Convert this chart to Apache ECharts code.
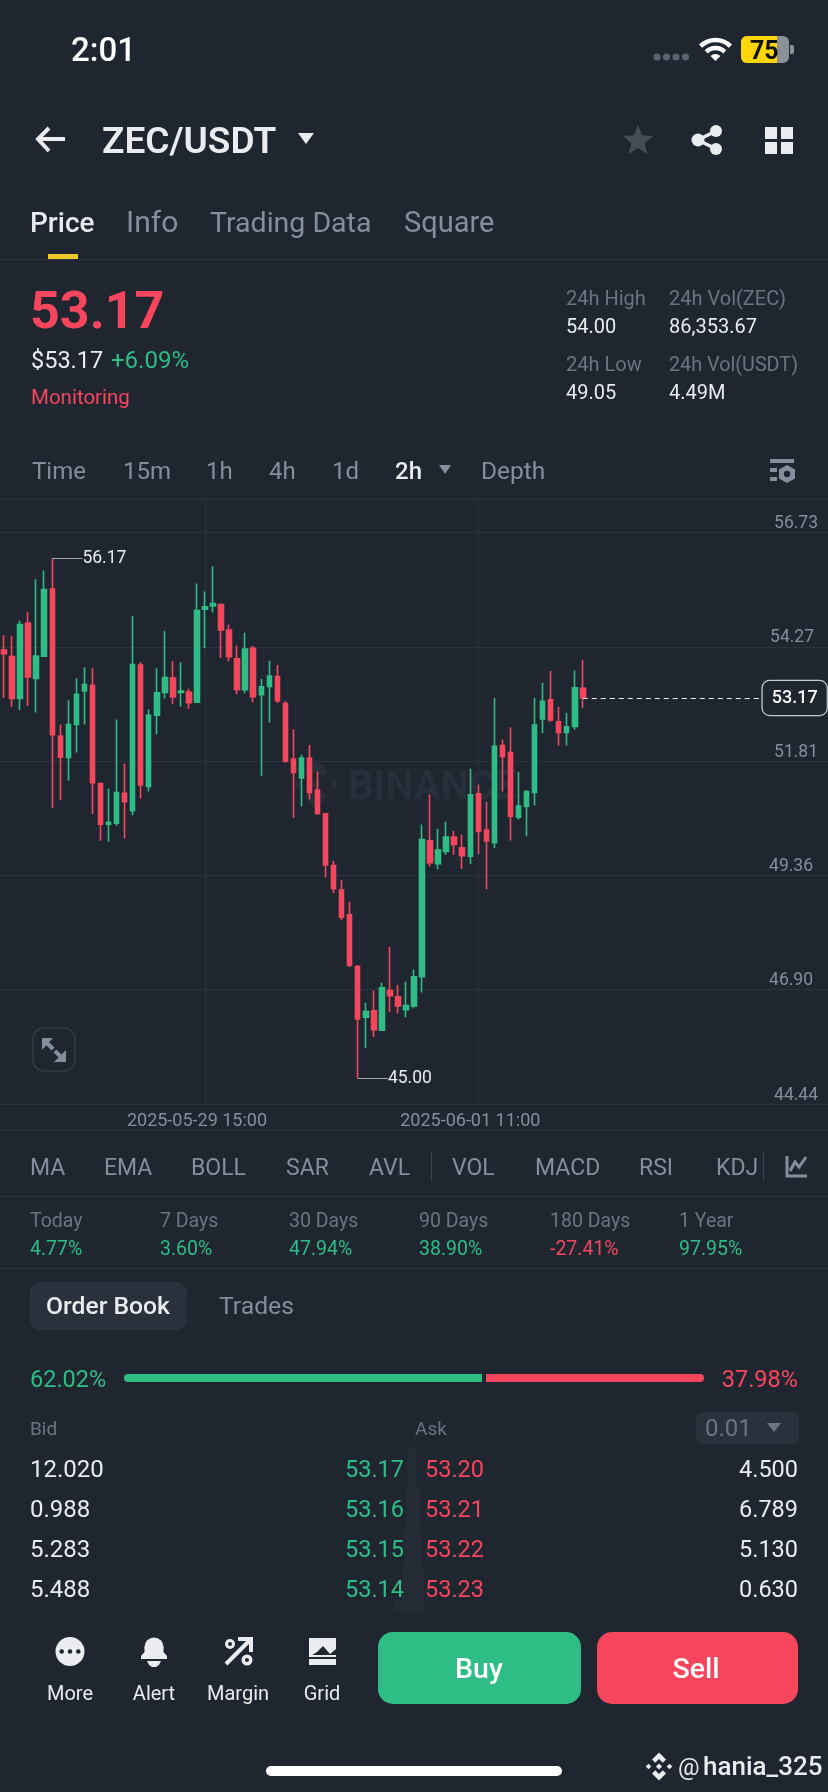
<!DOCTYPE html>
<html><head><meta charset="utf-8">
<style>html,body{margin:0;padding:0;background:#1f2630}#c{width:828px;height:1792px}</style>
<script src="https://cdn.jsdelivr.net/npm/echarts@6/dist/echarts.min.js"></script>
</head><body><div id="c"></div>
<script>
// ---------- data ----------
const opens  = [54.20,54.06,53.16,54.78,53.59,54.07,55.51,52.35,51.89,52.60,53.32,53.44,51.33,50.46,50.48,51.12,50.75,53.88,51.27,52.80,53.29,53.60,53.29,53.30,53.08,55.08,55.15,55.18,54.63,54.01,53.35,54.24,53.24,53.42,53.63,53.05,51.86,51.45,51.88,51.19,50.68,49.57,49.04,48.51,47.40,46.31,46.45,46.03,46.88,46.75,46.47,46.55,47.18,50.10,49.61,49.87,50.18,49.95,49.77,51.11,50.33,50.06,52.15,52.00,50.61,50.84,51.14,52.72,53.13,52.66,52.43,52.56,53.38];
const closes = [54.12,53.16,54.75,53.62,54.07,55.50,52.38,51.90,52.60,53.25,53.46,51.35,50.46,50.50,51.14,50.94,53.89,51.30,52.80,53.28,53.61,53.19,53.32,53.07,55.05,55.13,55.20,54.63,54.06,53.35,54.22,53.20,53.41,53.64,53.11,51.81,51.57,51.88,51.14,50.69,49.58,49.07,48.46,47.43,46.27,46.43,46.04,46.94,46.77,46.55,46.56,47.18,50.13,49.63,49.90,50.18,50.02,49.78,51.09,50.30,50.10,52.13,51.91,50.63,50.85,51.16,52.59,53.10,52.70,52.43,52.55,53.39,53.17];
const lows   = [53.17,52.98,52.91,53.00,52.86,54.07,50.80,50.97,51.39,52.00,52.60,50.67,50.10,50.08,50.43,50.15,50.65,51.01,51.16,52.39,53.16,53.04,52.98,52.94,53.06,54.24,55.01,54.03,53.96,53.25,53.27,53.08,51.50,52.64,53.06,51.78,50.59,50.84,50.99,50.66,49.31,48.98,48.40,47.39,45.00,45.64,45.89,46.03,46.42,46.39,46.31,46.50,46.84,49.55,49.49,49.80,49.80,49.50,49.60,49.81,49.06,49.94,51.16,50.11,50.56,50.20,50.86,52.41,52.66,52.15,52.15,52.49,52.95];
const highs  = [54.52,54.50,54.83,55.02,55.73,55.91,56.17,52.60,53.12,53.59,53.83,53.81,51.33,51.22,52.71,51.76,54.94,53.94,52.93,53.81,54.61,53.96,53.94,53.37,55.63,55.46,56.00,55.19,54.75,54.30,54.57,54.29,53.58,53.97,53.88,53.10,52.50,51.95,52.16,51.59,50.70,49.67,49.26,48.79,47.43,46.62,46.88,47.05,47.82,47.00,47.07,47.33,50.45,51.10,50.36,50.51,50.31,50.23,51.65,51.31,50.94,53.17,52.28,52.54,51.58,51.19,53.17,53.50,53.75,52.98,52.85,53.76,53.99];
const priceTicks = [44.44,46.90,49.36,51.81,54.27,56.73];
const sessionDays = ['2025-05-27','2025-05-28','2025-05-29','2025-05-30','2025-05-31','2025-06-01','2025-06-02'];
const labelledTimes = ['2025-05-29 15:00','2025-06-01 11:00'];
const lastPrice = 53.17, highMark = 56.17, lowMark = 45.00;
const bidShare = [62.02], askShare = [37.98];
const periods = ['Today','7 Days','30 Days','90 Days','180 Days','1 Year'];
const periodChange = ['4.77%','3.60%','47.94%','38.90%','-27.41%','97.95%'];
const bidQty = ['12.020','0.988','5.283','5.488'];
const bidPrice = ['53.17','53.16','53.15','53.14'];
const askPrice = ['53.20','53.21','53.22','53.23'];
const askQty = ['4.500','6.789','5.130','0.630'];

// ---------- build ----------
const BG='#1f2630',RED='#f6465d',GREEN='#2ebd85',W='#eaecef',G='#848e9c',G2='#6b7480',LINE='#2d333e',F='Roboto';
const categories=[];
sessionDays.forEach(function(d,i){for(let h=1;h<24;h+=2){if((i===0&&h<13)||(i===6&&h>13))continue;categories.push(d+' '+(h<10?'0':'')+h+':00');}});
const slots=categories.concat(new Array(30).fill(''));
const candles=opens.map(function(o,i){return [o,closes[i],lows[i],highs[i]];});
const el=[];
function T(x,base,text,size,fill,o){o=o||{};el.push({type:'text',x:x,y:base-size*0.25,silent:true,style:{text:text,fontSize:size,fontFamily:o.f||F,fontWeight:o.w||400,fill:fill,align:o.a||'left',verticalAlign:'middle'}});}
function R(x,y,w,h,fill,r,extra){el.push({type:'rect',silent:true,shape:{x:x,y:y,width:w,height:h,r:r||0},style:Object.assign({fill:fill},extra||{})});}
function P(points,fill){el.push({type:'polygon',silent:true,shape:{points:points},style:{fill:fill}});}
function L(points,color,w,cap){el.push({type:'polyline',silent:true,shape:{points:points},style:{fill:null,stroke:color,lineWidth:w,lineCap:cap||'butt',lineJoin:'miter'}});}
function C(x,y,r,fill){el.push({type:'circle',silent:true,shape:{cx:x,cy:y,r:r},style:{fill:fill}});}
function logo(cx,cy,s,fill){
  function q(a,b,r){P([[cx+a*s,cy+b*s-r*s],[cx+a*s+r*s,cy+b*s],[cx+a*s,cy+b*s+r*s],[cx+a*s-r*s,cy+b*s]],fill);}
  q(0,0,.22);q(-.75,0,.2);q(.75,0,.2);
  [-1,1].forEach(function(d){P([[cx,cy+d*s],[cx+.5*s,cy+d*.5*s],[cx+.27*s,cy+d*.27*s],[cx,cy+d*.54*s],[cx-.27*s,cy+d*.27*s],[cx-.5*s,cy+d*.5*s]],fill);});
}
// status bar
T(71,61,'2:01',33,'#ffffff',{w:500});
[657,666.5,676,685.5].forEach(function(x){C(x,57,3.6,'#5a6270');});
el.push({type:'arc',silent:true,shape:{cx:715.5,cy:61,r:21,startAngle:-2.36,endAngle:-0.78},style:{fill:null,stroke:'#fff',lineWidth:4.5}});
el.push({type:'arc',silent:true,shape:{cx:715.5,cy:61,r:13,startAngle:-2.36,endAngle:-0.78},style:{fill:null,stroke:'#fff',lineWidth:4.5}});
el.push({type:'sector',silent:true,shape:{cx:715.5,cy:61,r0:0,r:7,startAngle:-2.36,endAngle:-0.78},style:{fill:'#fff'}});
R(741,36,48,27,'#8b8f96',6);R(741,36,36,27,'#ffd60a',[6,0,0,6]);R(790,45,4,9,'#8b8f96',[0,2,2,0]);
T(750,59,'75',25,'#111',{w:700});
// header
L([[65,139],[38,139]],W,4);L([[49,128],[38,139],[49,151]],W,4);
T(102,153,'ZEC/USDT',37,W,{w:600});
P([[298,133],[314,133],[306,144]],W);
(function(){const pts=[];for(let i=0;i<10;i++){const r=i%2?7:16,a=-Math.PI/2+i*Math.PI/5;pts.push([638+r*Math.cos(a),141+r*Math.sin(a)]);}P(pts,'#474d57');})();
L([[716,131],[698,140],[716,149]],W,3.5);C(716,131,6,W);C(698,140,6.5,W);C(716,149,6,W);
R(765,127,12,12,W);R(781,127,12,12,W);R(765,142,12,12,W);R(781,142,12,12,W);
// tabs
T(30,232,'Price',28,W,{w:500});T(126,232,'Info',30,G);T(210,232,'Trading Data',28.5,G);T(404,232,'Square',29,G);
R(48,254,30,5,'#f0c929');R(0,259,828,1,LINE);
// ticker
T(30,328,'53.17',52,RED,{w:700});
T(31,368,'$53.17',23.5,W);T(111,368,'+6.09%',24,GREEN);
T(31,404,'Monitoring',20.5,RED);
T(566,305,'24h High',20,G2);T(566,333,'54.00',20,W);T(669,305,'24h Vol(ZEC)',20,G2);T(669,333,'86,353.67',20,W);
T(566,371,'24h Low',20,G2);T(566,399,'49.05',20,W);T(669,371,'24h Vol(USDT)',19.8,G2);T(669,399,'4.49M',20,W);
// timeframes
T(32,479,'Time',24,G);T(123,479,'15m',24,G);T(206,479,'1h',24,G);T(269,479,'4h',24,G);T(332,479,'1d',24,G);T(395,479,'2h',24,W,{w:500});
P([[439,465],[451,465],[445,474]],G);T(481,479,'Depth',24.5,G);
R(770,459,24,4,G);R(770,468,7,4,G);R(770,477,7,4,G);
P([[787,465],[795,469.5],[795,478.5],[787,483],[779,478.5],[779,469.5]],G);C(787,474,3.2,BG);
R(0,498.5,828,1,LINE);
// chart watermark
logo(316,784,24,'#292f3a');
T(348,799,'BINANCE',40,'#292f3a',{w:700});
// expand button
R(33,1028,42,43,'transparent',11,{stroke:'#343b47',lineWidth:1.6});
P([[42,1038],[53,1038],[42,1050]],G);L([[45,1041],[53,1049]],G,4);
P([[66,1062],[54,1062],[66,1050]],G);L([[63,1059],[55,1051]],G,4);
R(0,1130,828,1,LINE);
// indicators
[['MA',30],['EMA',104],['BOLL',191],['SAR',286],['AVL',369],['VOL',452],['MACD',535],['RSI',639],['KDJ',716]].forEach(function(a){T(a[1],1175,a[0],23,G);});
R(431,1152,1,29,'#3a414d');R(763,1152,1,29,'#3a414d');
L([[787,1156],[787,1176],[807,1176]],G,3);L([[790,1171],[795,1162],[799,1167],[806,1157]],G,3);
R(0,1196,828,1,LINE);
// period stats
const periodX=[30,160,289,419,550,679];
periods.forEach(function(p,i){T(periodX[i],1227,p,19.5,G2);T(periodX[i],1255,periodChange[i],19.5,periodChange[i][0]==='-'?RED:GREEN);});
R(0,1268,828,1,LINE);
// order book
R(30,1282,157,48,'#2b313c',10);
T(46,1314,'Order Book',24.7,W,{w:500});T(219,1314,'Trades',24.7,G);
T(30,1387,bidShare[0].toFixed(2)+'%',23.5,GREEN);T(798,1387,askShare[0].toFixed(2)+'%',23.5,RED,{a:'right'});
T(30,1435,'Bid',19,G2);T(415,1435,'Ask',19,G2);
R(696,1412,103,32,'#2b313c',8);T(705,1436,'0.01',24,G2);P([[767,1423],[781,1423],[774,1432]],G2);
[[407,1448,9,40],[406,1488,14,42],[404,1530,18,38],[402,1568,22,32],[394,1600,30,12]].forEach(function(b){R(b[0],b[1],b[2],b[3],'#252b35');});
[1477,1517,1557,1597].forEach(function(y,i){
  T(30,y,bidQty[i],24,W);T(404,y,bidPrice[i],23.5,GREEN,{a:'right'});T(425,y,askPrice[i],23.5,RED);T(798,y,askQty[i],23.5,W,{a:'right'});
});
// bottom bar
C(70,1651.5,14.5,W);[61.7,70,78.3].forEach(function(x){C(x,1651.5,2.3,BG);});
C(154,1647,9.5,W);
P([[144.5,1647],[163.5,1647],[163.5,1652],[167,1656],[167,1659],[141,1659],[141,1656],[144.5,1652]],W);
P([[147,1661],[161,1661],[159,1665],[156,1667],[152,1667],[149,1665]],W);
L([[226,1664],[251,1639]],W,4);L([[238,1639],[251,1639],[251,1652]],W,4);C(230,1644,5,W);C(230,1644,2,BG);C(247,1660,5.5,W);C(247,1660,2,BG);
P([[309,1638],[336,1638],[336,1649],[330,1654],[323,1646],[317,1652],[309,1657]],W);
R(309,1655,27,2,W);
R(309,1659,27,6,W);
T(70,1700,'More',20,W,{a:'center'});T(154,1700,'Alert',20,W,{a:'center'});T(238,1700,'Margin',20,W,{a:'center'});T(322,1700,'Grid',20,W,{a:'center'});
R(378,1632,203,72,GREEN,15);R(597,1632,201,72,RED,15);
T(479,1678,'Buy',28.5,'#fff',{a:'center',w:500});T(696,1678,'Sell',28.5,'#fff',{a:'center',w:500});
R(266,1766,296,10,'#fff',5);
logo(659,1766.5,14,W);
T(678,1775,'@',24,W);T(703,1775,'hania_325',26,W,{w:500});

const yShift={44.44:0,46.90:5,49.36:5,51.81:0,54.27:4,56.73:0};
const rich={};priceTicks.forEach(function(v,i){rich['t'+i]={color:G,fontSize:17.5,fontFamily:F,padding:[0,yShift[v],0,0]};});

const chart=echarts.init(document.getElementById('c'),null,{width:828,height:1792});
chart.setOption({
  animation:false,backgroundColor:BG,tooltip:{show:false},
  grid:[{left:-0.35,width:828.35,top:499,height:605.2},{left:124,width:580,top:1374,height:8}],
  xAxis:[{type:'category',gridIndex:0,data:slots,boundaryGap:true,axisLine:{show:false},axisTick:{show:false},
      axisLabel:{show:true,interval:function(i,v){return labelledTimes.indexOf(v)>=0;},color:G,fontSize:18,fontFamily:F,margin:8,padding:[0,16,0,0]},
      splitLine:{show:true,alignWithLabel:true,interval:function(i,v){return labelledTimes.indexOf(v)>=0;},lineStyle:{color:'#2b313c',width:1}}},
    {type:'value',gridIndex:1,min:0,max:100,show:false}],
  yAxis:[{type:'value',gridIndex:0,position:'right',min:44.44,max:57.447,scale:false,axisLine:{show:false},axisTick:{show:false,customValues:priceTicks},
      axisLabel:{inside:true,margin:10,customValues:priceTicks,verticalAlign:'bottom',lineHeight:18,formatter:function(v){return '{t'+priceTicks.indexOf(v)+'|'+v.toFixed(2)+'}';},rich:rich},
      splitLine:{show:true,lineStyle:{color:LINE,width:1}}},
    {type:'category',gridIndex:1,data:['share'],show:false}],
  series:[
    {type:'candlestick',xAxisIndex:0,yAxisIndex:0,data:candles,barWidth:5,
     itemStyle:{color:GREEN,color0:RED,borderColor:GREEN,borderColor0:RED,borderWidth:1.6},
     markLine:{silent:true,symbol:'none',animation:false,data:[
       [{coord:[72,lastPrice],lineStyle:{color:W,type:[5,4],width:1.2},
         label:{show:true,position:'end',distance:-5,formatter:lastPrice.toFixed(2),color:'#fff',fontSize:18,fontWeight:500,fontFamily:F,backgroundColor:BG,borderColor:'#c4c8ce',borderWidth:1.3,borderRadius:7,padding:[8,9,8,9]}},{coord:[95,lastPrice]}],
       [{coord:[6,highMark],lineStyle:{color:'#a3a8b0',type:'solid',width:1.2},
         label:{show:true,position:'end',distance:-2,formatter:highMark.toFixed(2),color:W,fontSize:17.5,fontFamily:F,backgroundColor:BG,padding:[7,0,0,0]}},{coord:[10,highMark]}],
       [{coord:[44,lowMark],lineStyle:{color:'#a3a8b0',type:'solid',width:1.2},
         label:{show:true,position:'end',distance:-2,formatter:lowMark.toFixed(2),color:W,fontSize:17.5,fontFamily:F,backgroundColor:BG,padding:[7,0,0,0]}},{coord:[48,lowMark]}]
     ]}},
    {type:'bar',name:'Bid',xAxisIndex:1,yAxisIndex:1,stack:'ratio',data:bidShare,barWidth:8,silent:true,itemStyle:{color:GREEN,borderRadius:[4,0,0,4]},
     markLine:{silent:true,symbol:'none',animation:false,label:{show:false},lineStyle:{color:BG,width:4,type:'solid'},data:[{xAxis:bidShare[0]}]}},
    {type:'bar',name:'Ask',xAxisIndex:1,yAxisIndex:1,stack:'ratio',data:askShare,barWidth:8,silent:true,itemStyle:{color:RED,borderRadius:[0,4,4,0]}}
  ],
  graphic:{elements:el}
});
</script></body></html>
